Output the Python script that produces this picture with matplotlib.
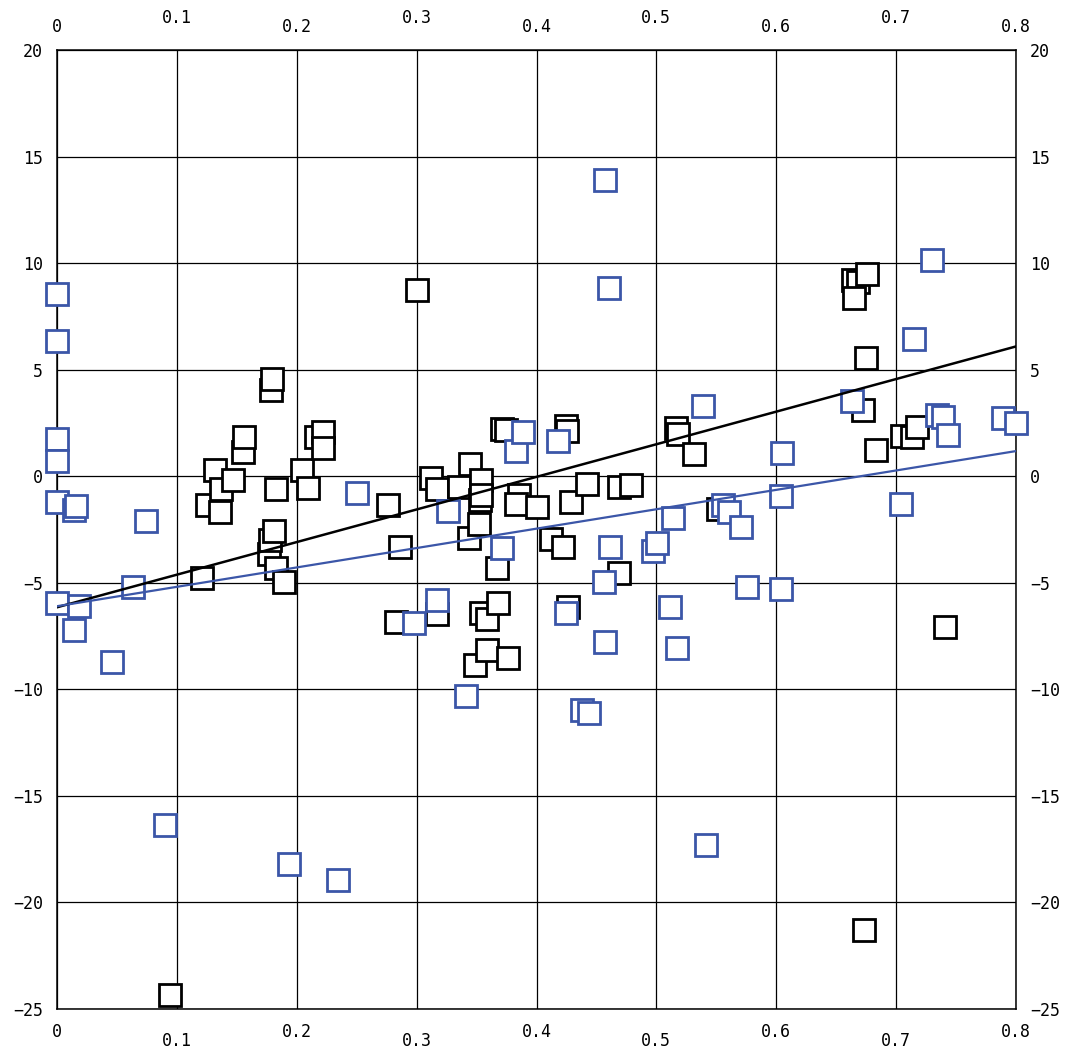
import numpy as np
import matplotlib
matplotlib.use("Agg")
import matplotlib.pyplot as plt
import matplotlib.transforms as mtransforms

plt.rcParams['font.family'] = ['DejaVu Sans Mono', 'DejaVu Sans']

# black series
black_x = [0.094, 0.121, 0.125, 0.132, 0.137, 0.136, 0.147, 0.155, 0.156, 0.1785,
           0.179, 0.177, 0.178, 0.181, 0.183, 0.189, 0.183, 0.204, 0.2097, 0.216,
           0.222, 0.222, 0.276, 0.283, 0.286, 0.3003, 0.312, 0.317, 0.317, 0.335,
           0.3445, 0.3437, 0.354, 0.353, 0.352, 0.3537, 0.3668, 0.3537, 0.359, 0.368,
           0.349, 0.359, 0.376, 0.371, 0.3746, 0.385, 0.383, 0.400, 0.412, 0.4224,
           0.4246, 0.4255, 0.4285, 0.442, 0.4265, 0.469, 0.4786, 0.469, 0.516, 0.518,
           0.531, 0.551, 0.664, 0.668, 0.665, 0.6754, 0.675, 0.672, 0.683, 0.705,
           0.713, 0.717, 0.741, 0.673]
black_y = [-24.35, -4.77, -1.36, 0.28, -0.58, -1.70, -0.19, 1.14, 1.85, 4.04,
           4.58, -3.66, -3.0, -2.57, -4.29, -4.96, -0.61, 0.28, -0.55, 1.85,
           2.08, 1.33, -1.33, -6.84, -3.32, 8.73, -0.1, -0.58, -6.45, -0.5,
           0.59, -2.9, -0.19, -1.13, -2.25, -0.89, -4.32, -6.41, -6.68, -5.97,
           -8.87, -8.17, -8.53, 2.2, 2.16, -0.89, -1.28, -1.44, -2.96, -3.32,
           2.35, 2.11, -1.22, -0.36, -6.13, -0.5, -0.4, -4.56, 2.24, 1.97,
           1.03, -1.56, 9.2, 9.12, 8.34, 9.47, 5.57, 3.1, 1.25, 1.9,
           1.82, 2.31, -7.07, -21.3]

# blue series
blue_x = [0.0, 0.0, 0.0, 0.0, 0.0, 0.0, 0.014, 0.0156, 0.018, 0.0145,
          0.046, 0.063, 0.0745, 0.090, 0.1935, 0.234, 0.250, 0.298, 0.317, 0.3265,
          0.341, 0.371, 0.3826, 0.389, 0.4177, 0.425, 0.4377, 0.444, 0.456, 0.457,
          0.457, 0.4605, 0.4613, 0.497, 0.5003, 0.511, 0.5136, 0.517, 0.5386, 0.5414,
          0.5553, 0.561, 0.571, 0.576, 0.6037, 0.6045, 0.604, 0.663, 0.7038, 0.715,
          0.7297, 0.734, 0.739, 0.743, 0.789, 0.800]
blue_y = [8.55, 6.34, 1.74, 0.70, -1.22, -5.97, -1.6, -1.39, -6.1, -7.23,
          -8.73, -5.19, -2.1, -16.38, -18.2, -18.96, -0.8, -6.88, -5.82, -1.64,
          -10.32, -3.36, 1.19, 2.08, 1.66, -6.41, -10.95, -11.1, -4.96, -7.8,
          13.9, 8.82, -3.32, -3.5, -3.13, -6.13, -1.96, -8.07, 3.3, -17.3,
          -1.36, -1.70, -2.38, -5.22, -5.27, 1.09, -0.92, 3.53, -1.28, 6.43,
          10.14, 2.86, 2.78, 1.94, 2.75, 2.52]

# fitted lines (intercept, slope)
black_fit = (-6.15, 15.3)
blue_fit = (-6.1, 9.1)

BLUE = '#3b56a8'
FS = 12

x_ticks = [0, 0.1, 0.2, 0.3, 0.4, 0.5, 0.6, 0.7, 0.8]
x_labels = ['0', '0.1', '0.2', '0.3', '0.4', '0.5', '0.6', '0.7', '0.8']
y_ticks = [-25, -20, -15, -10, -5, 0, 5, 10, 15, 20]

fig = plt.figure(figsize=(10.65, 10.51), dpi=100)
ax = fig.add_axes([57 / 1065, 42 / 1051, 959 / 1065, 959 / 1051])
ax.set_xlim(0, 0.8)
ax.set_ylim(-25, 20)

ax.set_xticks(x_ticks)
ax.set_yticks(y_ticks)
ax.grid(True, color='black', linewidth=0.9)
ax.set_axisbelow(True)
for s in ax.spines.values():
    s.set_linewidth(1.1)

ax.tick_params(axis='x', length=0, labelbottom=False, labeltop=False)
ax.tick_params(axis='y', length=0, pad=10, labelsize=FS, left=True, right=True,
               labelleft=True, labelright=True)

# staggered x labels, top and bottom
tr = mtransforms.blended_transform_factory(ax.transData, ax.transAxes)
for i, (v, lab) in enumerate(zip(x_ticks, x_labels)):
    off = 23 if i % 2 == 0 else 32
    ax.annotate(lab, (v, 1), xycoords=tr, xytext=(0, off * 0.72),
                textcoords='offset points', ha='center', va='center', fontsize=FS)
    ax.annotate(lab, (v, 0), xycoords=tr, xytext=(0, -off * 0.72),
                textcoords='offset points', ha='center', va='center', fontsize=FS)

ax.plot(black_x, black_y, 's', ms=16.3, mfc='white', mec='black', mew=2.0,
        clip_on=False, zorder=3)
ax.plot(blue_x, blue_y, 's', ms=16.3, mfc='white', mec=BLUE, mew=2.0,
        clip_on=False, zorder=4)

xx = np.array([0, 0.8])
ax.plot(xx, black_fit[0] + black_fit[1] * xx, color='black', lw=1.8, zorder=5)
ax.plot(xx, blue_fit[0] + blue_fit[1] * xx, color=BLUE, lw=1.6, zorder=5)

fig.savefig('out.png', dpi=100)
